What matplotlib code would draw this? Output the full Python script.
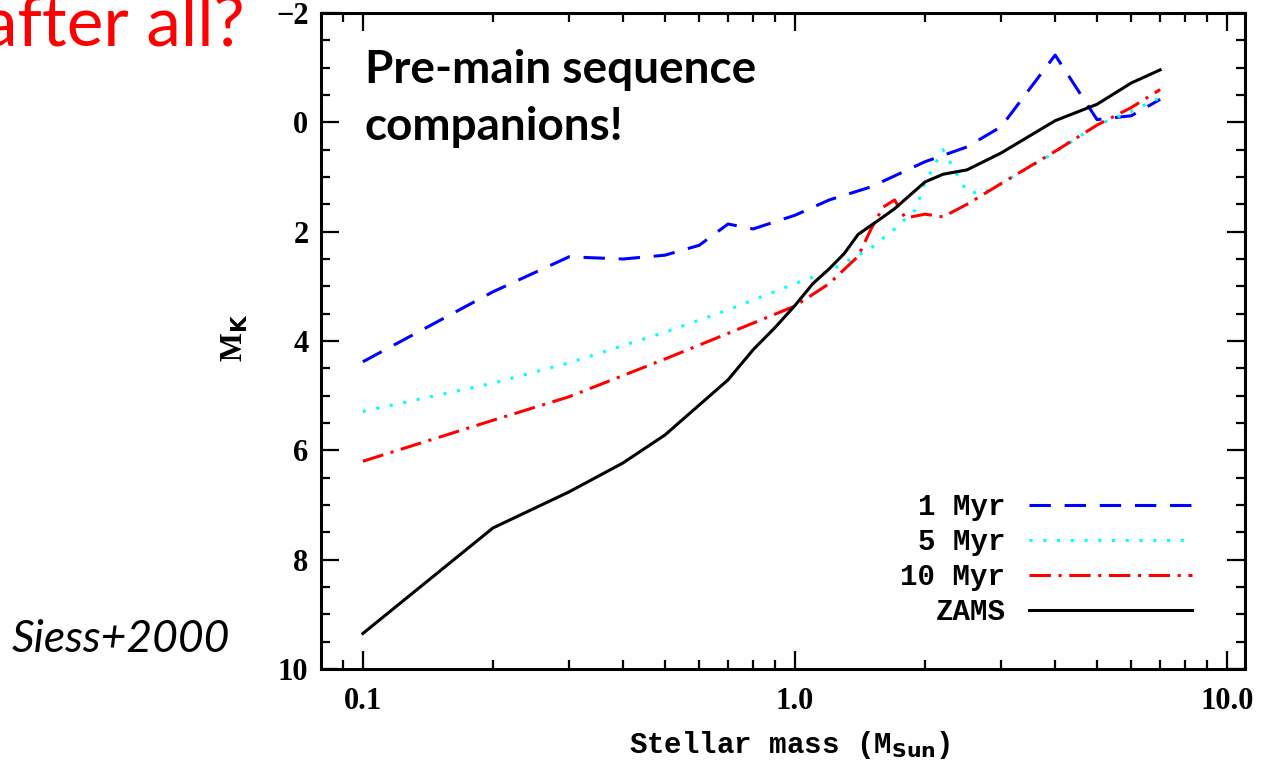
import numpy as np
import matplotlib.pyplot as plt
from matplotlib.ticker import FixedLocator, MultipleLocator

# Siess et al. (2000) isochrones, absolute K magnitude vs stellar mass
mass_1myr = [0.1, 0.2, 0.3, 0.4, 0.5, 0.6, 0.7, 0.8, 1.0, 1.2, 1.5, 2.0, 2.5, 3.0, 4.0, 5.0, 6.0, 7.0]
mk_1myr = [4.38, 3.10, 2.46, 2.50, 2.43, 2.25, 1.86, 1.95, 1.70, 1.42, 1.18, 0.72, 0.45, 0.08, -1.23, -0.05, -0.12, -0.42]

mass_5myr = [0.1, 0.2, 0.3, 0.5, 0.7, 1.0, 1.2, 1.5, 1.7, 1.9, 2.0, 2.2, 2.5, 2.7, 3.0, 4.0, 5.0, 6.0, 7.0]
mk_5myr = [5.29, 4.77, 4.40, 3.84, 3.43, 2.95, 2.72, 2.30, 1.95, 1.60, 1.10, 0.50, 1.27, 1.30, 1.12, 0.55, 0.05, -0.20, -0.45]

mass_10myr = [0.1, 0.2, 0.3, 0.5, 0.7, 1.0, 1.2, 1.4, 1.5, 1.6, 1.7, 1.8, 2.0, 2.2, 2.5, 3.0, 4.0, 5.0, 6.0, 7.0]
mk_10myr = [6.20, 5.45, 5.02, 4.33, 3.86, 3.36, 2.95, 2.45, 1.95, 1.55, 1.42, 1.75, 1.68, 1.73, 1.50, 1.12, 0.53, 0.05, -0.27, -0.60]

mass_zams = [0.1, 0.2, 0.3, 0.4, 0.5, 0.7, 0.8, 0.9, 1.0, 1.1, 1.2, 1.3, 1.4, 1.6, 1.7, 2.0, 2.2, 2.5, 3.0, 4.0, 5.0, 6.0, 7.0]
mk_zams = [9.35, 7.42, 6.76, 6.23, 5.72, 4.71, 4.16, 3.75, 3.35, 2.95, 2.68, 2.40, 2.05, 1.73, 1.58, 1.09, 0.95, 0.87, 0.56, -0.03, -0.33, -0.72, -0.96]

labels = ['1 Myr', '5 Myr', '10 Myr', 'ZAMS']
xtick_vals = [0.1, 1.0, 10.0]
xtick_labels = ['0.1', '1.0', '10.0']

tickfont = 'Liberation Serif'
monofont = 'Liberation Mono'

fig = plt.figure(figsize=(12.64, 7.66), dpi=100)
ax = fig.add_axes([321/1264, 1 - 669/766, (1245 - 321)/1264, (669 - 13)/766])

lw = 2.2
ax.plot(mass_1myr, mk_1myr, color='#0000ff', lw=lw, dashes=(7, 4.5), label=labels[0])
ax.plot(mass_5myr, mk_5myr, color='#00ffff', lw=lw, dashes=(1, 3.5), label=labels[1])
ax.plot(mass_10myr, mk_10myr, color='#ff0000', lw=lw, dashes=(7, 2.5, 1, 2.5), label=labels[2])
ax.plot(mass_zams, mk_zams, color='black', lw=lw, label=labels[3])

ax.set_xscale('log')
ax.set_xlim(0.08, 11.0)
ax.set_ylim(10, -2)

ax.xaxis.set_major_locator(FixedLocator(xtick_vals))
ax.set_xticklabels(xtick_labels)
minors = [0.09] + [m * 0.1 for m in range(2, 10)] + list(range(2, 10))
ax.xaxis.set_minor_locator(FixedLocator(minors))
ax.xaxis.set_minor_formatter(plt.NullFormatter())
ax.yaxis.set_major_locator(MultipleLocator(2))
ax.yaxis.set_minor_locator(MultipleLocator(0.5))

ax.tick_params(which='both', direction='in', top=True, right=True, width=1.6)
ax.tick_params(which='major', length=13)
ax.tick_params(which='minor', length=6.5)
ax.tick_params(axis='x', which='major', pad=13)
ax.tick_params(axis='y', which='major', pad=9)
for lab in ax.get_xticklabels() + ax.get_yticklabels():
    lab.set_fontfamily(tickfont)
    lab.set_fontweight('bold')
    lab.set_fontsize(22)
for sp in ax.spines.values():
    sp.set_linewidth(2.2)

ax.set_xlabel('Stellar mass (M$_{\\mathsf{\\mathbf{Sun}}}$)', fontfamily=monofont,
              fontweight='bold', fontsize=21)
ax.xaxis.set_label_coords(0.507, -0.092)
ax.set_ylabel('M$_{\\mathsf{\\mathbf{K}}}$', fontfamily=tickfont, fontweight='bold',
              fontsize=22)
ax.yaxis.set_label_coords(-0.077, 0.505)

leg = ax.legend(loc='lower right', bbox_to_anchor=((1192 - 321)/924, (669 - 626)/656),
                markerfirst=False, frameon=False, borderpad=0, borderaxespad=0,
                handlelength=5.6, handletextpad=0.8, labelspacing=0.24,
                prop={'family': monofont, 'weight': 'bold', 'size': 21})
for t in leg.get_texts():
    t.set_ha('right')

ax.text((365 - 321)/924, 1 - (140 - 13)/656, 'Pre-main sequence\ncompanions!',
        transform=ax.transAxes, fontfamily='Lato', fontweight='bold', fontsize=33,
        va='baseline', ha='left', linespacing=1.45)

fig.text(245/1264, 1 - 45/766, 'after all?', color='#ff0000', fontfamily='Lato',
         fontsize=50, ha='right', va='baseline')
fig.text(230/1264, 1 - 652/766, 'Siess+2000', fontfamily='Lato', style='italic',
         fontsize=32, ha='right', va='baseline')

fig.savefig('out.png', dpi=100)
